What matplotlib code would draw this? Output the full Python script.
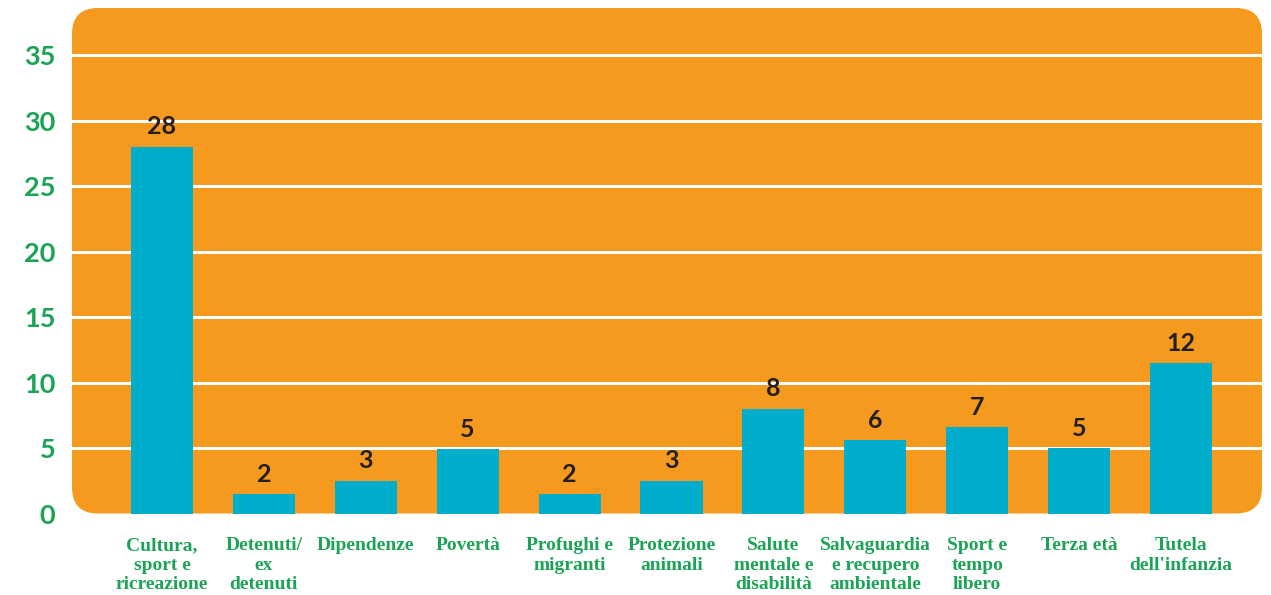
import matplotlib
matplotlib.use("Agg")
import matplotlib.pyplot as plt
from matplotlib.patches import FancyBboxPatch
from matplotlib.transforms import IdentityTransform

categories = [
    "Cultura,\nsport e\nricreazione",
    "Detenuti/\nex\ndetenuti",
    "Dipendenze",
    "Povertà",
    "Profughi e\nmigranti",
    "Protezione\nanimali",
    "Salute\nmentale e\ndisabilità",
    "Salvaguardia\ne recupero\nambientale",
    "Sport e\ntempo\nlibero",
    "Terza età",
    "Tutela\ndell'infanzia",
]
values = [28.0, 1.5, 2.5, 4.9, 1.5, 2.5, 8.0, 5.6, 6.6, 5.0, 11.5]
value_labels = ["28", "2", "3", "5", "2", "3", "8", "6", "7", "5", "12"]
y_ticks = [0, 5, 10, 15, 20, 25, 30, 35]

ORANGE = "#F69A1F"
TEAL = "#00AECB"
GREEN = "#1BA356"
DARK = "#231F20"

W, H, DPI = 1271, 595, 100
fig = plt.figure(figsize=(W / DPI, H / DPI), dpi=DPI)

# plot area in pixels
left, right, top, bottom = 72, 1262, 8, 513.5
ax = fig.add_axes([left / W, (H - bottom) / H, (right - left) / W, (bottom - top) / H])
ax.set_facecolor("none")

# rounded orange panel behind the bars
bg = FancyBboxPatch(
    (left, H - bottom), right - left, bottom - top,
    boxstyle="round,pad=0,rounding_size=26",
    transform=IdentityTransform(), facecolor=ORANGE, edgecolor="none",
    zorder=0, clip_on=False,
)
ax.add_artist(bg)

x = list(range(len(categories)))
ax.bar(x, values, width=0.61, color=TEAL, zorder=3)

for xi, v, lab in zip(x, values, value_labels):
    ax.annotate(lab, (xi, v), xytext=(0, 6), textcoords="offset points",
                ha="center", va="bottom", fontsize=18, fontweight="bold",
                family="Lato", color=DARK, zorder=4)

ax.set_xlim(-0.883, 10.795)
ax.set_ylim(0, 38.6)
ax.set_yticks(y_ticks)
for yt in y_ticks[1:]:
    ax.axhline(yt, color="white", linewidth=2.2, zorder=1)

ax.set_xticks(x)
ax.set_xticklabels(categories, family="Liberation Serif", fontweight="bold",
                   fontsize=14, color=GREEN, linespacing=1.2)
ax.set_yticklabels([str(t) for t in y_ticks], family="Lato", fontweight="bold",
                   fontsize=19.5, color=GREEN)
ax.tick_params(axis="x", length=0, pad=17)
ax.tick_params(axis="y", length=0, pad=12)
for s in ax.spines.values():
    s.set_visible(False)

fig.savefig("out.png", dpi=DPI)
